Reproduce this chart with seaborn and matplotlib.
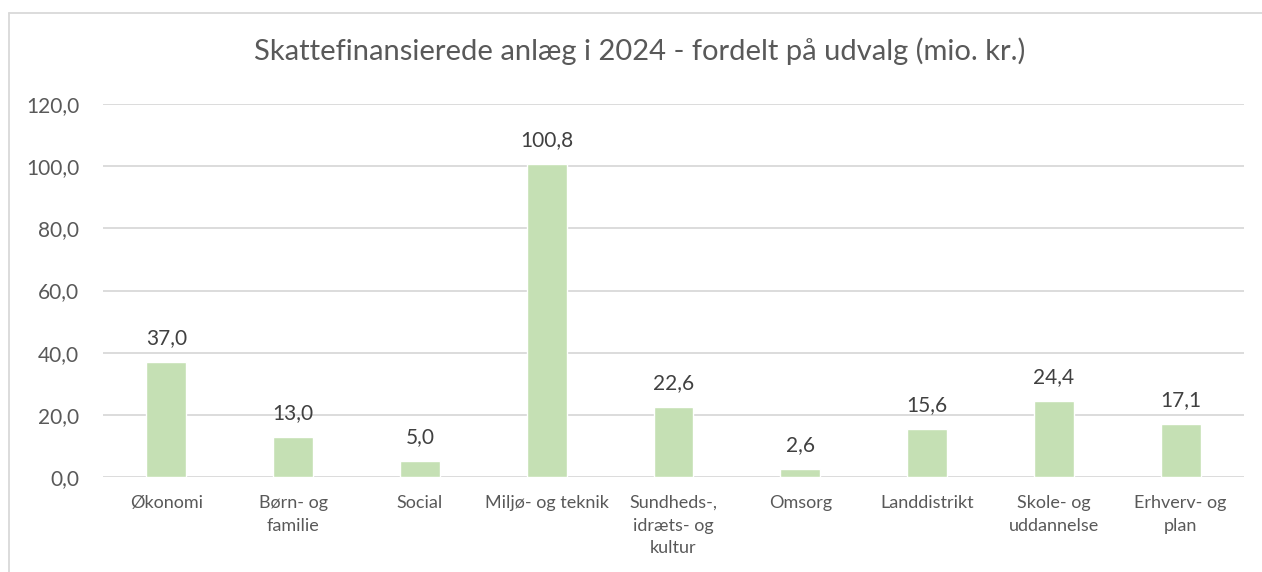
import matplotlib
matplotlib.use("Agg")
import matplotlib.pyplot as plt
import seaborn as sns
from matplotlib.lines import Line2D
from matplotlib.ticker import FuncFormatter
import pandas as pd

# --- DATA ---
udvalg = ['Økonomi', 'Børn- og\nfamilie', 'Social', 'Miljø- og teknik',
          'Sundheds-,\nidræts- og\nkultur', 'Omsorg', 'Landdistrikt',
          'Skole- og\nuddannelse', 'Erhverv- og\nplan']
beloeb = [37.0, 13.0, 5.0, 100.8, 22.6, 2.6, 15.6, 24.4, 17.1]
y_ticks = [0, 20, 40, 60, 80, 100, 120]

df = pd.DataFrame({'udvalg': udvalg, 'beloeb': beloeb})

sns.set_style("white")
plt.rcParams['font.family'] = ['Lato', 'DejaVu Sans']
tekst = '#595959'

fig = plt.figure(figsize=(12.62, 5.72), dpi=100)
ax = fig.add_axes([103 / 1262, 1 - 477 / 572, 1141 / 1262, 373 / 572])

sns.barplot(x='udvalg', y='beloeb', data=df, color='#C5E0B4', saturation=1,
            width=0.315, ax=ax)

ax.set_ylim(0, 120)
ax.set_xlim(-0.5, len(udvalg) - 0.5)
ax.set_yticks(y_ticks)
ax.yaxis.set_major_formatter(FuncFormatter(lambda v, p: f"{v:.1f}".replace('.', ',')))
ax.grid(axis='y', color='#D9D9D9', linewidth=1.3)
ax.set_axisbelow(True)
for s in ax.spines.values():
    s.set_visible(False)
ax.tick_params(axis='y', length=0, pad=17, labelsize=15, labelcolor=tekst)
ax.tick_params(axis='x', length=0, pad=13, labelsize=13, labelcolor=tekst)
for lbl in ax.get_xticklabels():
    lbl.set_linespacing(1.5)
ax.set_xlabel('')
ax.set_ylabel('')

# værdier over søjlerne
for i, v in enumerate(beloeb):
    ax.annotate(f"{v:.1f}".replace('.', ','), (i, v), xytext=(0, 10),
                textcoords='offset points', ha='center', va='bottom',
                fontsize=15, color='#404040')

fig.text(640 / 1262, 1 - 51 / 572, 'Skattefinansierede anlæg i 2024 - fordelt på udvalg (mio. kr.)',
         ha='center', va='center', fontsize=21, color=tekst)

# ramme
fig.add_artist(Line2D([8.5 / 1262, 8.5 / 1262], [0, 1 - 12.5 / 572], color='#D9D9D9', linewidth=1.3))
fig.add_artist(Line2D([8.5 / 1262, 1], [1 - 12.5 / 572, 1 - 12.5 / 572], color='#D9D9D9', linewidth=1.3))

fig.savefig('out.png', dpi=100)
